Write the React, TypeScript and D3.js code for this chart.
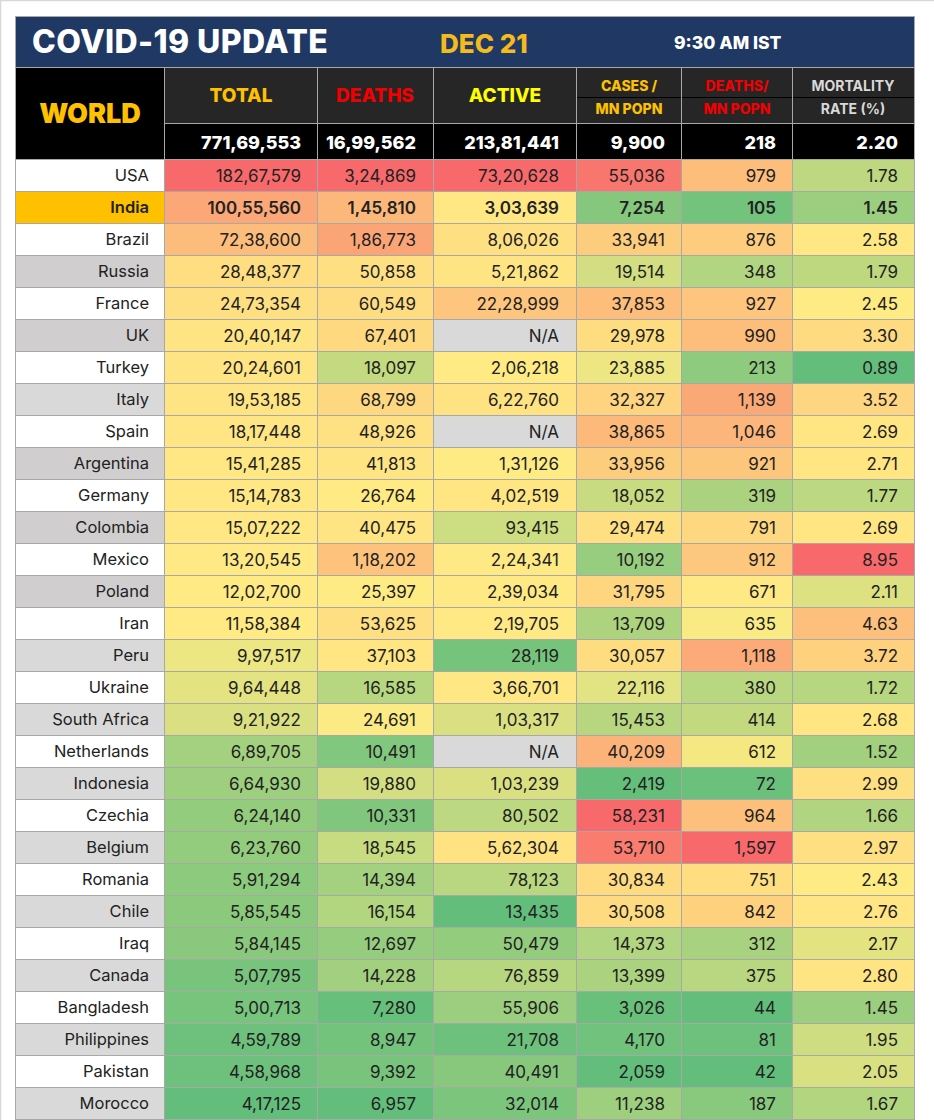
import * as d3 from "d3";

const countries = ["USA", "India", "Brazil", "Russia", "France", "UK", "Turkey", "Italy", "Spain", "Argentina", "Germany", "Colombia", "Mexico", "Poland", "Iran", "Peru", "Ukraine", "South Africa", "Netherlands", "Indonesia", "Czechia", "Belgium", "Romania", "Chile", "Iraq", "Canada", "Bangladesh", "Philippines", "Pakistan", "Morocco"];
const total = [18267579, 10055560, 7238600, 2848377, 2473354, 2040147, 2024601, 1953185, 1817448, 1541285, 1514783, 1507222, 1320545, 1202700, 1158384, 997517, 964448, 921922, 689705, 664930, 624140, 623760, 591294, 585545, 584145, 507795, 500713, 459789, 458968, 417125];
const deaths = [324869, 145810, 186773, 50858, 60549, 67401, 18097, 68799, 48926, 41813, 26764, 40475, 118202, 25397, 53625, 37103, 16585, 24691, 10491, 19880, 10331, 18545, 14394, 16154, 12697, 14228, 7280, 8947, 9392, 6957];
const active = [7320628, 303639, 806026, 521862, 2228999, null, 206218, 622760, null, 131126, 402519, 93415, 224341, 239034, 219705, 28119, 366701, 103317, null, 103239, 80502, 562304, 78123, 13435, 50479, 76859, 55906, 21708, 40491, 32014];
const casesMn = [55036, 7254, 33941, 19514, 37853, 29978, 23885, 32327, 38865, 33956, 18052, 29474, 10192, 31795, 13709, 30057, 22116, 15453, 40209, 2419, 58231, 53710, 30834, 30508, 14373, 13399, 3026, 4170, 2059, 11238];
const deathsMn = [979, 105, 876, 348, 927, 990, 213, 1139, 1046, 921, 319, 791, 912, 671, 635, 1118, 380, 414, 612, 72, 964, 1597, 751, 842, 312, 375, 44, 81, 42, 187];
const mortality = [1.78, 1.45, 2.58, 1.79, 2.45, 3.3, 0.89, 3.52, 2.69, 2.71, 1.77, 2.69, 8.95, 2.11, 4.63, 3.72, 1.72, 2.68, 1.52, 2.99, 1.66, 2.97, 2.43, 2.76, 2.17, 2.8, 1.45, 1.95, 2.05, 1.67];
const worldTotals = [77169553, 1699562, 21381441, 9900, 218, 2.2];

const columnData = [total, deaths, active, casesMn, deathsMn, mortality];
const columnEdges = [164, 317, 433, 576, 681, 792, 914];
const textEnds = [301, 416, 559, 665, 776, 898];

const FONT = "Inter, 'Noto Sans', sans-serif";
const LINE = "#a8a8a8";

const indian = d3.formatLocale({ decimal: ".", thousands: ",", grouping: [3, 2], currency: ["", ""] });
const intFmt = indian.format(",d");
const fmt = (v: number | null, col: number) => (v === null ? "N/A" : col === 5 ? v.toFixed(2) : intFmt(v));

const rowY = d3.scaleBand<string>().domain(countries).range([159, 1119]);

const colorScales = columnData.map((vals) => {
  const nums = vals.filter((v): v is number => v !== null);
  return d3
    .scaleLinear<string>()
    .domain([d3.min(nums)!, d3.median(nums)!, d3.max(nums)!])
    .range(["#63BE7B", "#FFEB84", "#F8696B"]);
});

const labelFill = (i: number) => {
  if (i === 1) return "#FFC000";
  if (i % 2 === 0) return "#FFFFFF";
  return [3, 5, 9, 11, 13].includes(i) ? "#D0CECE" : "#D9D9D9";
};

export default function App() {
  const h = rowY.bandwidth();
  return (
    <svg width={934} height={1120} viewBox="0 0 934 1120" style={{ position: "absolute", left: 0, top: 0, background: "#fff" }} fontFamily={FONT}>
      <path d="M0 0.5H934M0.5 0V1120" stroke="#d8d8d8" strokeWidth={1.5} fill="none" />

      <rect x={15} y={16} width={899} height={51} fill="#1F3864" />
      <text x={32} y={53} fontSize={32} fontWeight={800} fill="#fff" letterSpacing={0.4}>COVID-19 UPDATE</text>
      <text x={440} y={53} fontSize={26} fontWeight={800} fill="#F5BA1B">DEC 21</text>
      <text x={674} y={49} fontSize={17.5} fontWeight={800} fill="#fff">9:30 AM IST</text>

      <rect x={15} y={67} width={149} height={92} fill="#000" />
      <text x={90} y={123} fontSize={27} fontWeight={900} fill="#FFC000" textAnchor="middle">WORLD</text>

      <rect x={164} y={67} width={750} height={56} fill="#262626" />
      <rect x={164} y={123} width={750} height={36} fill="#000" />
      <line x1={576} x2={914} y1={97.5} y2={97.5} stroke="#000" />
      <text x={241} y={102} fontSize={19} fontWeight={800} fill="#FFC000" textAnchor="middle">TOTAL</text>
      <text x={375} y={102} fontSize={19} fontWeight={800} fill="#F00000" textAnchor="middle">DEATHS</text>
      <text x={505} y={102} fontSize={19} fontWeight={800} fill="#FFFF00" textAnchor="middle">ACTIVE</text>
      <text x={629} y={91} fontSize={14} fontWeight={800} fill="#FFC000" textAnchor="middle">CASES /</text>
      <text x={629} y={114} fontSize={14} fontWeight={800} fill="#FFC000" textAnchor="middle">MN POPN</text>
      <text x={737} y={91} fontSize={14} fontWeight={800} fill="#F00000" textAnchor="middle">DEATHS/</text>
      <text x={737} y={114} fontSize={14} fontWeight={800} fill="#F00000" textAnchor="middle">MN POPN</text>
      <text x={853} y={91} fontSize={14} fontWeight={700} fill="#D9D9D9" textAnchor="middle">MORTALITY</text>
      <text x={853} y={114} fontSize={14} fontWeight={700} fill="#D9D9D9" textAnchor="middle">RATE (%)</text>

      {worldTotals.map((v, c) => (
        <text key={c} x={textEnds[c]} y={149} fontSize={18} fontWeight={800} fill="#fff" textAnchor="end">{fmt(v, c)}</text>
      ))}

      {countries.map((name, i) => {
        const y = rowY(name)!;
        const bold = i === 1;
        return (
          <g key={name}>
            <rect x={15} y={y} width={149} height={h} fill={labelFill(i)} />
            <text x={149} y={y + 22} fontSize={16.5} fontWeight={bold ? 600 : 400} fill="#222" textAnchor="end">{name}</text>
            {columnData.map((vals, c) => {
              const v = vals[i];
              const x = columnEdges[c];
              return (
                <g key={c}>
                  <rect x={x} y={y} width={columnEdges[c + 1] - x} height={h} fill={v === null ? "#D9D9D9" : colorScales[c](v)} />
                  <text x={textEnds[c]} y={y + 23} fontSize={17} fontWeight={bold ? 600 : 400} fill="#222" textAnchor="end">{fmt(v, c)}</text>
                </g>
              );
            })}
          </g>
        );
      })}

      {countries.map((name) => (
        <line key={name} x1={15} x2={914} y1={rowY(name)! + 0.5} y2={rowY(name)! + 0.5} stroke={LINE} />
      ))}
      <line x1={15} x2={914} y1={1119.5} y2={1119.5} stroke={LINE} />
      <line x1={15} x2={914} y1={67.5} y2={67.5} stroke={LINE} />
      <line x1={164} x2={914} y1={123.5} y2={123.5} stroke={LINE} />
      <path d="M15 16.5H914" stroke={LINE} />
      {[15, ...columnEdges].map((x, i) => (
        <line key={i} x1={x + 0.5} x2={x + 0.5} y1={i === 0 || i === 7 ? 16 : 67} y2={1120} stroke={LINE} />
      ))}
    </svg>
  );
}
